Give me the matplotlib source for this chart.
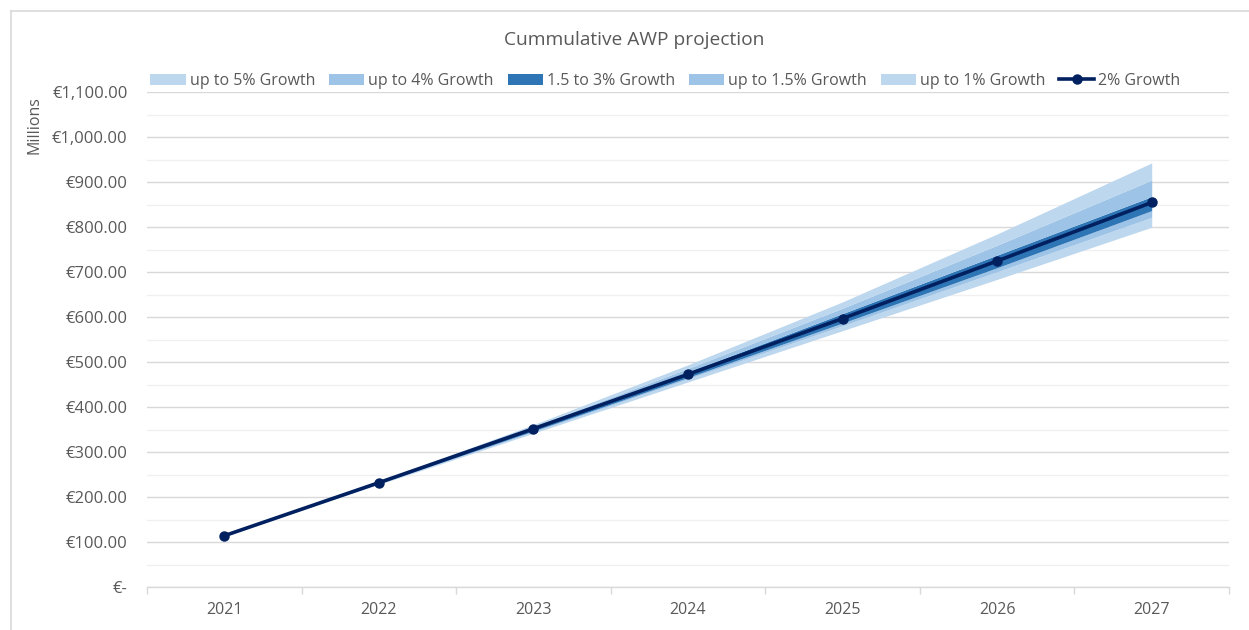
import matplotlib
matplotlib.use("Agg")
import matplotlib.pyplot as plt
from matplotlib.patches import Patch
from matplotlib.lines import Line2D
from matplotlib.ticker import FuncFormatter, MultipleLocator

plt.rcParams['font.family'] = ['Open Sans', 'DejaVu Sans']

# Data (millions of euro, cumulative)
years = ['2021', '2022', '2023', '2024', '2025', '2026', '2027']
no_growth = [114, 228, 342, 456, 570, 684, 800]
growth_1 = [114, 229, 345, 463, 581, 701, 822]
growth_15 = [114, 230, 347, 466, 587, 710, 837]
growth_2 = [114, 232, 352, 473, 597, 725, 855]
growth_3 = [114, 232, 354, 478, 608, 738, 868]
growth_4 = [114, 233, 357, 486, 620, 760, 905]
growth_5 = [114, 235, 361, 494, 634, 785, 943]

LIGHT = '#BDD7EE'
MID = '#9DC3E6'
DARK = '#2E75B6'
NAVY = '#002060'
TXT = '#595959'
GRID = '#D9D9D9'

fig = plt.figure(figsize=(12.49, 6.30), dpi=100)
ax = fig.add_axes([147 / 1249, 1 - 587 / 630, (1229 - 147) / 1249, (587 - 92.3) / 630])

x = list(range(len(years)))

# bands (stacked look)
ax.fill_between(x, no_growth, growth_1, color=LIGHT, lw=0)
ax.fill_between(x, growth_1, growth_15, color=MID, lw=0)
ax.fill_between(x, growth_15, growth_3, color=DARK, lw=0)
ax.fill_between(x, growth_3, growth_4, color=MID, lw=0)
ax.fill_between(x, growth_4, growth_5, color=LIGHT, lw=0)

ax.plot(x, growth_2, color=NAVY, lw=2.6, marker='o', markersize=6.5, zorder=5)

# axes styling
ax.set_xlim(-0.5, len(years) - 0.5)
ax.set_ylim(0, 1100)
ax.yaxis.set_major_locator(MultipleLocator(100))
ax.yaxis.set_minor_locator(MultipleLocator(50))


def euro(v, pos):
    if v == 0:
        return '€-'
    return '€{:,.2f}'.format(v)


ax.yaxis.set_major_formatter(FuncFormatter(euro))
ax.grid(axis='y', which='major', color=GRID, lw=1.0, zorder=0)
ax.grid(axis='y', which='minor', color='#F0F0F0', lw=1.0, zorder=0)
ax.set_axisbelow(True)

ax.set_xticks(x)
ax.set_xticklabels(years)
ax.set_xticks([i - 0.5 for i in range(len(years) + 1)], minor=True)
ax.tick_params(axis='x', which='major', length=0, pad=11, labelsize=11.5, labelcolor=TXT)
ax.tick_params(axis='x', which='minor', length=5, color=GRID, width=1)
ax.tick_params(axis='y', which='both', length=0, pad=14, labelsize=12, labelcolor=TXT)

for s in ['top', 'right', 'left']:
    ax.spines[s].set_visible(False)
ax.spines['bottom'].set_color(GRID)
ax.spines['bottom'].set_linewidth(1.0)

# title and unit label
fig.text(634 / 1249, 1 - 40 / 630, 'Cummulative AWP projection', ha='center', va='center',
         fontsize=13.8, color=TXT)
fig.text(35 / 1249, 1 - 125 / 630, 'Millions', rotation=90, ha='center', va='center',
         fontsize=11.5, color=TXT)

handles = [
    Patch(facecolor=LIGHT, label='up to 5% Growth'),
    Patch(facecolor=MID, label='up to 4% Growth'),
    Patch(facecolor=DARK, label='1.5 to 3% Growth'),
    Patch(facecolor=MID, label='up to 1.5% Growth'),
    Patch(facecolor=LIGHT, label='up to 1% Growth'),
    Line2D([], [], color=NAVY, lw=2.6, marker='o', markersize=6.5, label='2% Growth'),
]
leg = fig.legend(handles=handles, ncol=6, loc='center left',
                 bbox_to_anchor=(136 / 1249, 1 - 81 / 630), frameon=False,
                 fontsize=11.5, handlelength=2.2, handleheight=0.7, handletextpad=0.25,
                 columnspacing=0.88, labelcolor=TXT)

# chart frame (left and top edges visible)
fig.add_artist(Line2D([11 / 1249, 11 / 1249], [0, 1 - 11 / 630], color='#D9D9D9', lw=1.2))
fig.add_artist(Line2D([11 / 1249, 1], [1 - 11 / 630, 1 - 11 / 630], color='#D9D9D9', lw=1.2))

fig.savefig('out.png', dpi=100)
